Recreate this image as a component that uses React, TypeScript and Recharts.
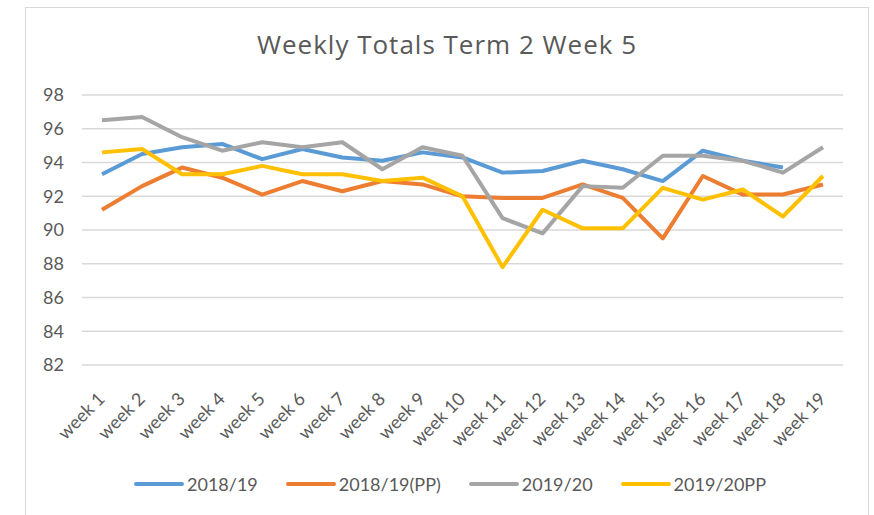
import React from "react";
import { LineChart, Line, XAxis, YAxis, CartesianGrid, Legend } from "recharts";

const weeks = ["week 1","week 2","week 3","week 4","week 5","week 6","week 7","week 8","week 9","week 10","week 11","week 12","week 13","week 14","week 15","week 16","week 17","week 18","week 19"];
const s1819 = [93.3,94.5,94.9,95.1,94.2,94.8,94.3,94.1,94.6,94.3,93.4,93.5,94.1,93.6,92.9,94.7,94.1,93.7,null];
const s1819pp = [91.2,92.6,93.7,93.1,92.1,92.9,92.3,92.9,92.7,92.0,91.9,91.9,92.7,91.9,89.5,93.2,92.1,92.1,92.7];
const s1920 = [96.5,96.7,95.5,94.7,95.2,94.9,95.2,93.6,94.9,94.4,90.7,89.8,92.6,92.5,94.4,94.4,94.1,93.4,94.9];
const s1920pp = [94.6,94.8,93.3,93.3,93.8,93.3,93.3,92.9,93.1,92.0,87.8,91.2,90.1,90.1,92.5,91.8,92.4,90.8,93.2];
const yTicks = [82,84,86,88,90,92,94,96,98];

const seriesDefs = [
  { key: "2018/19", color: "#5B9BD5", values: s1819 },
  { key: "2018/19(PP)", color: "#ED7D31", values: s1819pp },
  { key: "2019/20", color: "#A5A5A5", values: s1920 },
  { key: "2019/20PP", color: "#FFC000", values: s1920pp },
];

const data = weeks.map((w, i) => {
  const row: any = { week: w };
  seriesDefs.forEach((s) => { row[s.key] = s.values[i]; });
  return row;
});

const FONT = "Lato, 'Open Sans', sans-serif";
const TEXT = "#595959";

const XTick = (props: any) => {
  const { x, y, payload } = props;
  return (
    <text
      x={0}
      y={0}
      transform={`translate(${x + 4},${y + 35}) rotate(-45)`}
      textAnchor="end"
      fill={TEXT}
      fontSize={18}
      fontFamily={FONT}
    >
      {payload.value}
    </text>
  );
};

const LegendContent = () => (
  <div style={{ display: "flex", alignItems: "center", fontFamily: FONT, fontSize: 18, color: TEXT }}>
    {seriesDefs.map((s) => (
      <div key={s.key} style={{ display: "flex", alignItems: "center", marginRight: 28 }}>
        <span style={{ display: "inline-block", width: 50, height: 4, borderRadius: 2, background: s.color, marginRight: 3 }} />
        <span>{s.key}</span>
      </div>
    ))}
  </div>
);

export default function App() {
  return (
    <div style={{ position: "absolute", left: 0, top: 0, width: 874, height: 515, background: "#fff", overflow: "hidden" }}>
      <div style={{ position: "absolute", left: 25, top: 7, width: 842, height: 520, borderLeft: "1.5px solid #d9d9d9", borderTop: "1.5px solid #d9d9d9", borderRight: "1.5px solid #d9d9d9" }} />
      <div style={{ position: "absolute", left: 0, width: 894, top: 26, lineHeight: "36px", textAlign: "center", fontFamily: "'Open Sans', sans-serif", fontSize: 26, letterSpacing: 1, color: TEXT }}>
        Weekly Totals Term 2 Week 5
      </div>
      <div style={{ position: "absolute", left: 0, top: 0 }}>
        <LineChart width={874} height={515} data={data} margin={{ top: 95, right: 31, bottom: 0, left: 0 }}>
          <CartesianGrid horizontal vertical={false} stroke="#d9d9d9" strokeWidth={1.5} />
          <XAxis dataKey="week" axisLine={false} tickLine={false} tickSize={0} tickMargin={0} interval={0} padding={{ left: 20, right: 20 }} tick={<XTick />} height={150} />
          <YAxis domain={[82, 98]} ticks={yTicks} interval={0} axisLine={false} tickLine={false} tickSize={0} tickMargin={18} width={82} tick={{ fill: TEXT, fontSize: 18, fontFamily: FONT }} />
          {seriesDefs.map((s) => (
            <Line key={s.key} type="linear" dataKey={s.key} stroke={s.color} strokeWidth={4} dot={false} activeDot={false} isAnimationActive={false} strokeLinejoin="round" />
          ))}
          <Legend layout="horizontal" verticalAlign="middle" align="center" content={<LegendContent />} wrapperStyle={{ position: "absolute", left: 134, top: 473, width: 740 }} />
        </LineChart>
      </div>
    </div>
  );
}
